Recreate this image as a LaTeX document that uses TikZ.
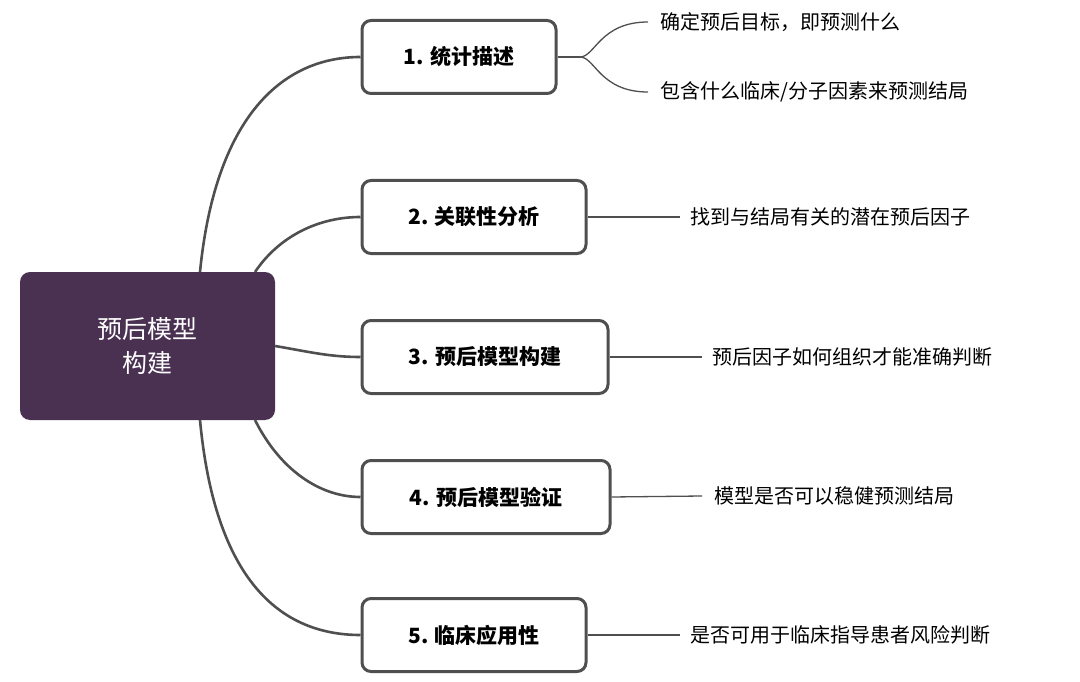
\documentclass[tikz,border=0pt]{standalone}
\usepackage{fontspec}
\setmainfont{Noto Sans CJK SC}
\definecolor{rootfill}{HTML}{4A3152}
\definecolor{linegray}{HTML}{4F4F4F}
\begin{document}
\begin{tikzpicture}
[
    x=1pt, y=-1pt,
    root/.style={draw=none, fill=rootfill, rounded corners=10pt, text=white,
        minimum width=255pt, minimum height=148pt, font=\fontsize{25}{34}\selectfont,
        align=center},
    stage/.style={draw=linegray, line width=3pt, fill=white, rounded corners=9pt,
        minimum height=73pt, font=\fontsize{21}{25}\selectfont\bfseries},
    leaf/.style={anchor=west, font=\fontsize{20}{24}\selectfont, inner sep=0pt},
    link/.style={draw=linegray, line width=2.6pt},
    twig/.style={draw=linegray, line width=1.3pt},
]
\useasboundingbox (0,0) rectangle (1080,682);
\node [root] (core) at (147.5,346) {预后模型\\构建};
\node [stage, minimum width=194pt] (s1) at (459,57) {1. 统计描述};
\node [stage, minimum width=224pt] (s2) at (474,217) {2. 关联性分析};
\node [stage, minimum width=246pt] (s3) at (485,357) {3. 预后模型构建};
\node [stage, minimum width=248pt] (s4) at (486,497) {4. 预后模型验证};
\node [stage, minimum width=224pt] (s5) at (474,635) {5. 临床应用性};
% branches
\coordinate (c1) at (200,272);
\coordinate (c2) at (255,272);
\coordinate (c4) at (255,420);
\coordinate (c5) at (200,420);
\draw [link] (c1) .. controls (215,120) and (280,57) .. (s1.west);
\draw [link] (c2) .. controls (280,235) and (320,217) .. (s2.west);
\draw [link] (core.east) .. controls (310,352) and (330,357) .. (s3.west);
\draw [link] (c4) .. controls (280,470) and (320,497) .. (s4.west);
\draw [link] (c5) .. controls (215,580) and (280,635) .. (s5.west);
% leaves
\node [leaf] (t1a) at (660,22) {确定预后目标，即预测什么};
\node [leaf] (t1b) at (660,92) {包含什么临床/分子因素来预测结局};
\node [leaf] (t2) at (690,217) {找到与结局有关的潜在预后因子};
\node [leaf] (t3) at (712,357) {预后因子如何组织才能准确判断};
\node [leaf] (t4) at (714,496) {模型是否可以稳健预测结局};
\node [leaf] (t5) at (690,635) {是否可用于临床指导患者风险判断};
\coordinate (fork) at (580,57);
\coordinate (e1a) at (648,22);
\coordinate (e1b) at (648,92);
\draw [twig] (s1.east) -- (fork);
\draw [twig] (fork) .. controls (595,57) and (600,22) .. (e1a);
\draw [twig] (fork) .. controls (595,57) and (600,92) .. (e1b);
\draw [twig] (s2.east) -- ([xshift=-10pt]t2.west);
\draw [twig] (s3.east) -- ([xshift=-10pt]t3.west);
\draw [twig] (s4.east) -- ([xshift=-12pt]t4.west);
\draw [twig] (s5.east) -- ([xshift=-10pt]t5.west);
\end{tikzpicture}
\end{document}
